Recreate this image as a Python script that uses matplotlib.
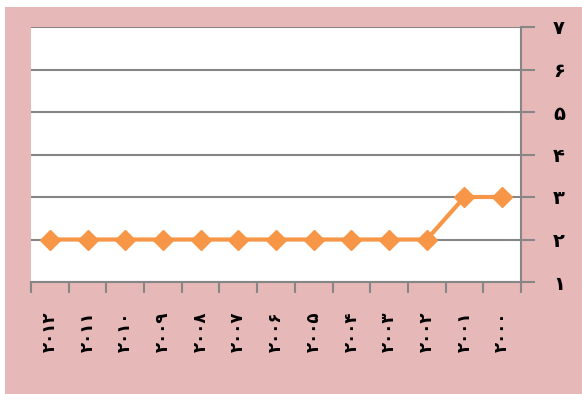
import matplotlib
matplotlib.use("Agg")
import matplotlib.pyplot as plt
from matplotlib.patches import Rectangle

# Years shown right-to-left, with Persian digits
years = ["۲۰۱۲", "۲۰۱۱", "۲۰۱۰", "۲۰۰۹", "۲۰۰۸", "۲۰۰۷", "۲۰۰۶",
         "۲۰۰۵", "۲۰۰۴", "۲۰۰۳", "۲۰۰۲", "۲۰۰۱", "۲۰۰۰"]
values = [2, 2, 2, 2, 2, 2, 2, 2, 2, 2, 2, 3, 3]
y_ticks = [1, 2, 3, 4, 5, 6, 7]
y_labels = ["۱", "۲", "۳", "۴", "۵", "۶", "۷"]

W, H = 582, 394
pink = "#E6B9B8"
orange = "#F79646"
grey = "#868686"

fig = plt.figure(figsize=(W / 100, H / 100), dpi=100)
fig.patch.set_facecolor("white")
fig.patches.append(Rectangle((5 / W, 0), 1 - 5 / W, 1 - 7 / H,
                             transform=fig.transFigure, facecolor=pink,
                             edgecolor="none", zorder=-5))

ax = fig.add_axes([31 / W, 112 / H, (521 - 31) / W, (282 - 27) / H])
ax.set_facecolor("white")
ax.set_zorder(1)

n = len(years)
x = list(range(n))
ax.plot(x, values, color=orange, lw=3, marker="D", markersize=10.5,
        markeredgecolor=orange, markerfacecolor=orange, zorder=3,
        clip_on=False)

ax.set_xlim(-0.5, n - 0.5)
ax.set_ylim(1, 7)

for y in y_ticks:
    ax.axhline(y, color=grey, lw=1.5, zorder=1)

for s in ["left", "top"]:
    ax.spines[s].set_visible(False)
ax.spines["right"].set_color(grey)
ax.spines["right"].set_linewidth(1.5)
ax.spines["bottom"].set_color(grey)
ax.spines["bottom"].set_linewidth(1.5)

ax.yaxis.tick_right()
ax.set_yticks(y_ticks)
ax.set_yticklabels(y_labels, fontsize=14, fontweight="bold",
                   family="DejaVu Sans")
ax.tick_params(axis="y", length=10, width=1.5, color=grey, pad=13)

ax.set_xticks([i - 0.5 for i in range(n + 1)])
ax.set_xticklabels([])
ax.tick_params(axis="x", which="major", length=8, width=1.5, color=grey)
ax.set_xticks(x, minor=True)
ax.set_xticklabels(years, minor=True, rotation=90, fontsize=12,
                   fontweight="bold", family="DejaVu Sans")
ax.tick_params(axis="x", which="minor", length=0, pad=21)

fig.savefig("out.png", dpi=100, facecolor=fig.get_facecolor())
